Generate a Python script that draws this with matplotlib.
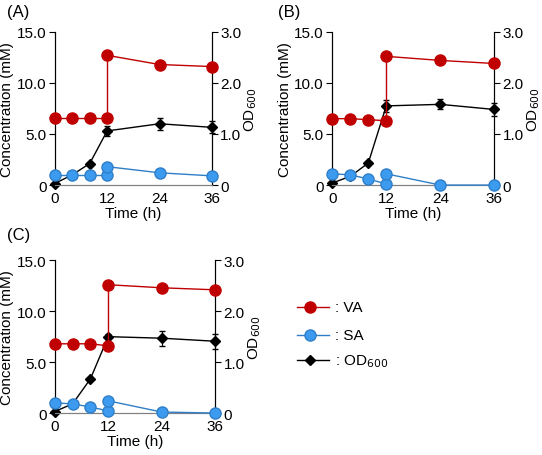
import numpy as np
import matplotlib
matplotlib.use("Agg")
import matplotlib.pyplot as plt

plt.rcParams['font.family'] = ['Liberation Sans', 'DejaVu Sans']
plt.rcParams['font.size'] = 11

t_pre = [0, 4, 8, 12]
t_post = [12, 24, 36]
t_od = [0, 4, 8, 12, 24, 36]

panels = {
    "A": dict(va_pre=[6.6, 6.6, 6.6, 6.6], va_post=[12.7, 11.8, 11.6],
              sa_pre=[1.0, 1.0, 1.0, 1.0], sa_post=[1.8, 1.2, 0.9],
              od=[0.03, 0.2, 0.42, 1.06, 1.2, 1.13],
              od_err=[0, 0, 0, 0.1, 0.12, 0.12]),
    "B": dict(va_pre=[6.5, 6.5, 6.4, 6.3], va_post=[12.6, 12.2, 11.9],
              sa_pre=[1.1, 1.0, 0.6, 0.1], sa_post=[1.1, 0.0, 0.0],
              od=[0.04, 0.17, 0.43, 1.55, 1.58, 1.48],
              od_err=[0, 0, 0, 0.12, 0.1, 0.12]),
    "C": dict(va_pre=[6.8, 6.8, 6.8, 6.6], va_post=[12.6, 12.3, 12.1],
              sa_pre=[1.0, 0.9, 0.6, 0.2], sa_post=[1.2, 0.1, 0.0],
              od=[0.03, 0.18, 0.67, 1.5, 1.47, 1.41],
              od_err=[0, 0, 0, 0.05, 0.15, 0.15]),
}
rects = {"A": [0.101, 0.592, 0.29, 0.336],
         "B": [0.613, 0.592, 0.299, 0.336],
         "C": [0.101, 0.092, 0.296, 0.335]}
label_pos = {"A": (0.012, 0.99), "B": (0.512, 0.99), "C": (0.012, 0.5)}

RED = "#C00000"
BLUE = "#3D9BEF"
BLUE_EDGE = "#2F7FC8"

fig = plt.figure(figsize=(5.42, 4.56), dpi=100)

for key, d in panels.items():
    ax = fig.add_axes(rects[key])
    ax2 = ax.twinx()
    ms = 8
    ax.plot(t_pre, d["va_pre"], "-o", color=RED, ms=ms, lw=1, clip_on=False, zorder=3)
    ax.plot(t_post, d["va_post"], "-o", color=RED, ms=ms, lw=1, clip_on=False, zorder=3)
    ax.plot([12, 12], [d["va_pre"][-1], d["va_post"][0]], color=RED, lw=1)
    ax.plot(t_pre, d["sa_pre"], "-o", color=BLUE_EDGE, mfc=BLUE, mec=BLUE_EDGE,
            ms=ms, lw=1, clip_on=False, zorder=3)
    ax.plot(t_post, d["sa_post"], "-o", color=BLUE_EDGE, mfc=BLUE, mec=BLUE_EDGE,
            ms=ms, lw=1, clip_on=False, zorder=3)
    ax.plot([12, 12], [d["sa_pre"][-1], d["sa_post"][0]], color=BLUE_EDGE, lw=1)
    ax2.errorbar(t_od, d["od"], yerr=d["od_err"], fmt="-D", color="black", ms=5.5,
                 lw=1, elinewidth=0.8, capsize=2.5, clip_on=False, zorder=4)
    ax.set_xlim(0, 36)
    ax.set_ylim(0, 15)
    ax2.set_ylim(0, 3)
    ax.set_xticks([0, 12, 24, 36])
    ax.set_yticks([0, 5, 10, 15])
    ax.set_yticklabels(["0", "5.0", "10.0", "15.0"])
    ax2.set_yticks([0, 1, 2, 3])
    ax2.set_yticklabels(["0", "1.0", "2.0", "3.0"])
    for a in (ax, ax2):
        a.spines["top"].set_visible(False)
        a.spines["bottom"].set_color("#808080")
        a.tick_params(direction="out", length=4, pad=2)
    ax.tick_params(axis="x", length=0, pad=4)
    ax.set_ylabel("Concentration (mM)", labelpad=2)
    ax2.set_ylabel("OD$_{600}$", labelpad=1)
    ax.set_xlabel("Time (h)", labelpad=1)
    ax.set_zorder(ax2.get_zorder() + 1)
    ax.patch.set_visible(False)
    fig.text(*label_pos[key], "(%s)" % key, fontsize=12, va="top", ha="left")

# legend
lx = [0.548, 0.572, 0.607]
for y, lab, kw in [(0.325, ": VA", dict(marker="o", color=RED, ms=8)),
                   (0.263, ": SA", dict(marker="o", color=BLUE_EDGE, mfc=BLUE, ms=8)),
                   (0.208, ": OD$_{600}$", dict(marker="D", color="black", ms=5.5))]:
    fig.add_artist(plt.Line2D(lx, [y] * 3, lw=1, markevery=[1], **kw))
    fig.text(0.618, y, lab, va="center", ha="left", fontsize=11)

fig.savefig("out.png", dpi=100)
